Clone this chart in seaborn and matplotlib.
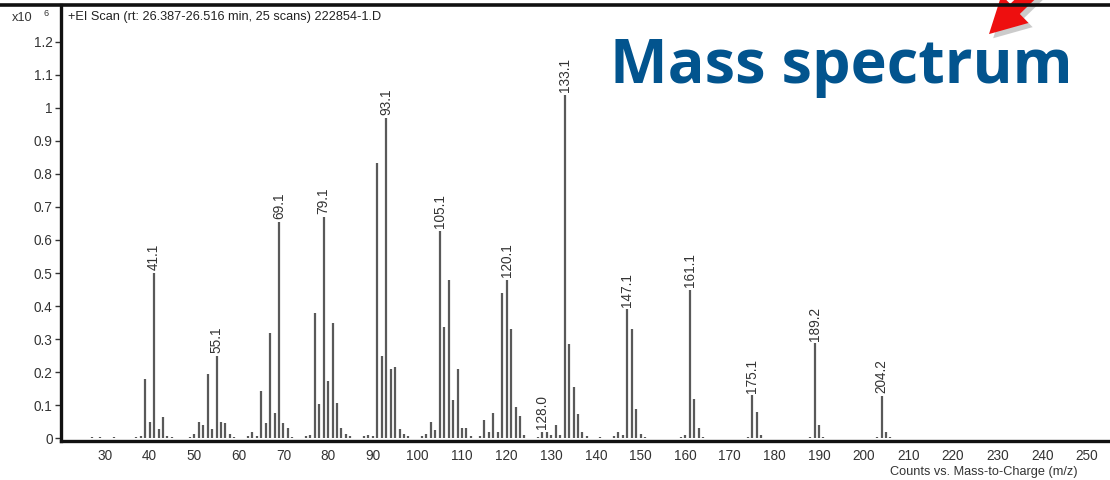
import numpy as np
import pandas as pd
import matplotlib
matplotlib.use("Agg")
import matplotlib.pyplot as plt
import matplotlib.patheffects as pe
from matplotlib.patches import FancyArrowPatch
from matplotlib.lines import Line2D
import seaborn as sns

# ---- data (intensity in units of 10^6 counts) ----
mz = [27, 29, 32, 37, 38, 39, 40, 41, 42, 43, 44, 45, 49, 50, 51, 52, 53, 54, 55, 56, 57, 58, 59,
      62, 63, 64, 65, 66, 67, 68, 69, 70, 71, 72, 75, 76, 77, 78, 79, 80, 81, 82, 83, 84, 85,
      88, 89, 90, 91, 92, 93, 94, 95, 96, 97, 98, 101, 102, 103, 104, 105, 106, 107, 108, 109,
      110, 111, 112, 114, 115, 116, 117, 118, 119, 120, 121, 122, 123, 124, 127, 128, 129, 130,
      131, 132, 133, 134, 135, 136, 137, 138, 141, 144, 145, 146, 147, 148, 149, 150, 151,
      159, 160, 161, 162, 163, 164, 174, 175, 176, 177, 188, 189, 190, 191, 203, 204, 205, 206]
intensity = [0.004, 0.004, 0.003, 0.004, 0.006, 0.178, 0.049, 0.500, 0.027, 0.064, 0.006, 0.003,
             0.005, 0.012, 0.049, 0.040, 0.196, 0.027, 0.250, 0.050, 0.045, 0.012, 0.005,
             0.006, 0.020, 0.008, 0.142, 0.045, 0.320, 0.078, 0.655, 0.045, 0.030, 0.004, 0.006,
             0.010, 0.380, 0.104, 0.670, 0.172, 0.350, 0.107, 0.030, 0.012, 0.006,
             0.006, 0.010, 0.008, 0.832, 0.250, 0.970, 0.210, 0.217, 0.027, 0.012, 0.006,
             0.006, 0.012, 0.050, 0.025, 0.628, 0.336, 0.480, 0.115, 0.210,
             0.030, 0.030, 0.008, 0.006, 0.055, 0.020, 0.077, 0.020, 0.440, 0.480, 0.330, 0.095,
             0.067, 0.010, 0.005, 0.020, 0.020, 0.010,
             0.040, 0.010, 1.040, 0.284, 0.155, 0.075, 0.020, 0.006, 0.004, 0.006, 0.020, 0.010,
             0.390, 0.330, 0.090, 0.012, 0.004,
             0.005, 0.010, 0.450, 0.118, 0.031, 0.005, 0.004, 0.130, 0.080, 0.010, 0.004, 0.287,
             0.040, 0.005, 0.004, 0.128, 0.018, 0.005]

label_mz = [41, 55, 69, 79, 93, 105, 120, 128, 133, 147, 161, 175, 189, 204]
label_text = ["41.1", "55.1", "69.1", "79.1", "93.1", "105.1", "120.1", "128.0",
              "133.1", "147.1", "161.1", "175.1", "189.2", "204.2"]

y_ticks = [0, 0.1, 0.2, 0.3, 0.4, 0.5, 0.6, 0.7, 0.8, 0.9, 1.0, 1.1, 1.2]
y_tick_labels = ["0", "0.1", "0.2", "0.3", "0.4", "0.5", "0.6", "0.7", "0.8", "0.9", "1", "1.1", "1.2"]
x_ticks = list(range(30, 260, 10))

title = "+EI Scan (rt: 26.387-26.516 min, 25 scans) 222854-1.D"
x_label = "Counts vs. Mass-to-Charge (m/z)"
headline = "Mass spectrum"

# ---- style ----
sns.set_theme(style="white")
plt.rcParams['font.family'] = ['Liberation Sans', 'DejaVu Sans']

W, H = 1110, 480
fig = plt.figure(figsize=(W / 100, H / 100), dpi=100)
fig.patch.set_facecolor("white")

left_px, bottom_px, top_px = 61, 441, 5
ax = fig.add_axes([left_px / W, (H - bottom_px) / H, 1 - left_px / W, (bottom_px - top_px) / H])

df = pd.DataFrame({"mz": mz, "intensity": intensity})
ax.vlines(df["mz"], 0, df["intensity"], color="#595959", lw=1.6)

lab = df.set_index("mz").loc[label_mz, "intensity"].values
for m, h, t in zip(label_mz, lab, label_text):
    ax.text(m, h + 0.008, t, rotation=90, ha="center", va="bottom",
            fontsize=9.8, color="#333333")

ax.set_xlim(20.15, 255.2)
ax.set_ylim(-0.0082, 1.311)
ax.set_yticks(y_ticks)
ax.set_yticklabels(y_tick_labels)
ax.set_xticks(x_ticks)
ax.set_xticklabels([str(v) for v in x_ticks])
ax.tick_params(axis="y", which="both", left=True, length=4, width=1, color="#333333",
               labelsize=9.8, labelcolor="#333333", pad=2, direction="out")
ax.tick_params(axis="x", length=0, labelsize=9.8, labelcolor="#333333", pad=6)
ax.grid(False)
for s in ["top", "right"]:
    ax.spines[s].set_visible(False)
for s in ["left", "bottom"]:
    ax.spines[s].set_visible(True)
    ax.spines[s].set_color("#111111")
    ax.spines[s].set_linewidth(2.4)

# top frame line across the whole figure
fig.add_artist(Line2D([0, 1], [1 - 5 / H, 1 - 5 / H], transform=fig.transFigure,
                      color="#111111", lw=2.6))

# texts
fig.text(68 / W, 1 - 17 / H, title, fontsize=9.2, color="#222222", va="center", ha="left")
fig.text(12 / W, 1 - 18 / H, "x10", fontsize=9.2, color="#333333", va="center", ha="left")
fig.text(43 / W, 1 - 14 / H, "6", fontsize=6.5, color="#333333", va="center", ha="left")
fig.text(1078 / W, 1 - 472 / H, x_label, fontsize=9.2, color="#333333", va="center", ha="right")

fig.text(610 / W, 1 - 83 / H, headline, fontsize=44, fontweight="bold",
         family=["Open Sans", "DejaVu Sans"], color="#02548e", va="baseline", ha="left")

# red arrow
arrow = FancyArrowPatch((1045 / W, 1 + 20 / H), (987 / W, 1 - 36 / H),
                        transform=fig.transFigure,
                        arrowstyle="simple,head_width=28,head_length=26,tail_width=10",
                        mutation_scale=1, color="#ee0f0f", lw=0,
                        path_effects=[pe.SimplePatchShadow(offset=(3, -3), shadow_rgbFace="#999999",
                                                           alpha=0.5), pe.Normal()])
fig.add_artist(arrow)

fig.savefig("out.png", dpi=100, facecolor="white")
